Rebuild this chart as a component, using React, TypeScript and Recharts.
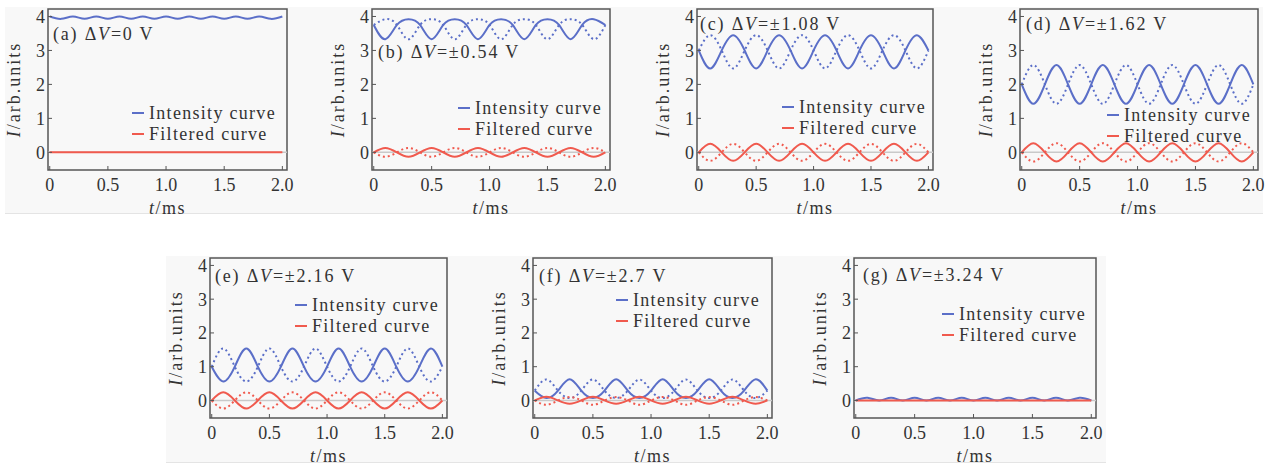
import React from "react";
import {
  LineChart, Line, XAxis, YAxis, ReferenceArea, ReferenceLine, Legend, Label,
} from "recharts";

const FONT = '"Liberation Serif", "Times New Roman", serif';
const BLUE = "#5b6fc8";
const RED = "#f05a4e";
const INK = "#333333";
const FRAME = "#555555";

// time axis, ms
const TIME = [0, 0.1, 0.2, 0.3, 0.4, 0.5, 0.6, 0.7, 0.8, 0.9, 1.0, 1.1, 1.2, 1.3, 1.4, 1.5, 1.6, 1.7, 1.8, 1.9, 2.0];
const X_TICKS = [0, 0.5, 1.0, 1.5, 2.0];
const Y_TICKS = [0, 1, 2, 3, 4];
const X_DOMAIN: [number, number] = [-0.015, 2.04];
const Y_DOMAIN: [number, number] = [-0.52, 4.22];
const SERIES_NAMES = ["Intensity curve", "Filtered curve"];

// (a) ΔV = 0 V
const A_INT = [4.0, 3.93, 4.0, 3.93, 4.0, 3.93, 4.0, 3.93, 4.0, 3.93, 4.0, 3.93, 4.0, 3.93, 4.0, 3.93, 4.0, 3.93, 4.0, 3.93, 4.0];
const A_FIL = [0, 0, 0, 0, 0, 0, 0, 0, 0, 0, 0, 0, 0, 0, 0, 0, 0, 0, 0, 0, 0];

// (b) ΔV = ±0.54 V
const B_INT = [3.75, 3.33, 3.75, 3.92, 3.75, 3.33, 3.75, 3.92, 3.75, 3.33, 3.75, 3.92, 3.75, 3.33, 3.75, 3.92, 3.75, 3.33, 3.75, 3.92, 3.75];
const B_INT_D = [3.75, 3.92, 3.75, 3.33, 3.75, 3.92, 3.75, 3.33, 3.75, 3.92, 3.75, 3.33, 3.75, 3.92, 3.75, 3.33, 3.75, 3.92, 3.75, 3.33, 3.75];
const B_FIL = [0, 0.13, 0, -0.13, 0, 0.13, 0, -0.13, 0, 0.13, 0, -0.13, 0, 0.13, 0, -0.13, 0, 0.13, 0, -0.13, 0];
const B_FIL_D = [0, -0.13, 0, 0.13, 0, -0.13, 0, 0.13, 0, -0.13, 0, 0.13, 0, -0.13, 0, 0.13, 0, -0.13, 0, 0.13, 0];

// (c) ΔV = ±1.08 V
const C_INT = [3.0, 2.47, 3.0, 3.45, 3.0, 2.47, 3.0, 3.45, 3.0, 2.47, 3.0, 3.45, 3.0, 2.47, 3.0, 3.45, 3.0, 2.47, 3.0, 3.45, 3.0];
const C_INT_D = [3.0, 3.45, 3.0, 2.47, 3.0, 3.45, 3.0, 2.47, 3.0, 3.45, 3.0, 2.47, 3.0, 3.45, 3.0, 2.47, 3.0, 3.45, 3.0, 2.47, 3.0];
const C_FIL = [0, 0.25, 0, -0.25, 0, 0.25, 0, -0.25, 0, 0.25, 0, -0.25, 0, 0.25, 0, -0.25, 0, 0.25, 0, -0.25, 0];
const C_FIL_D = [0, -0.25, 0, 0.25, 0, -0.25, 0, 0.25, 0, -0.25, 0, 0.25, 0, -0.25, 0, 0.25, 0, -0.25, 0, 0.25, 0];

// (d) ΔV = ±1.62 V
const D_INT = [2.0, 1.43, 2.0, 2.57, 2.0, 1.43, 2.0, 2.57, 2.0, 1.43, 2.0, 2.57, 2.0, 1.43, 2.0, 2.57, 2.0, 1.43, 2.0, 2.57, 2.0];
const D_INT_D = [2.0, 2.57, 2.0, 1.43, 2.0, 2.57, 2.0, 1.43, 2.0, 2.57, 2.0, 1.43, 2.0, 2.57, 2.0, 1.43, 2.0, 2.57, 2.0, 1.43, 2.0];
const D_FIL = [0, 0.27, 0, -0.27, 0, 0.27, 0, -0.27, 0, 0.27, 0, -0.27, 0, 0.27, 0, -0.27, 0, 0.27, 0, -0.27, 0];
const D_FIL_D = [0, -0.27, 0, 0.27, 0, -0.27, 0, 0.27, 0, -0.27, 0, 0.27, 0, -0.27, 0, 0.27, 0, -0.27, 0, 0.27, 0];

// (e) ΔV = ±2.16 V
const E_INT = [1.0, 0.56, 1.0, 1.54, 1.0, 0.56, 1.0, 1.54, 1.0, 0.56, 1.0, 1.54, 1.0, 0.56, 1.0, 1.54, 1.0, 0.56, 1.0, 1.54, 1.0];
const E_INT_D = [1.0, 1.54, 1.0, 0.56, 1.0, 1.54, 1.0, 0.56, 1.0, 1.54, 1.0, 0.56, 1.0, 1.54, 1.0, 0.56, 1.0, 1.54, 1.0, 0.56, 1.0];
const E_FIL = [0, 0.24, 0, -0.24, 0, 0.24, 0, -0.24, 0, 0.24, 0, -0.24, 0, 0.24, 0, -0.24, 0, 0.24, 0, -0.24, 0];
const E_FIL_D = [0, -0.24, 0, 0.24, 0, -0.24, 0, 0.24, 0, -0.24, 0, 0.24, 0, -0.24, 0, 0.24, 0, -0.24, 0, 0.24, 0];

// (f) ΔV = ±2.7 V
const F_INT = [0.29, 0.07, 0.29, 0.63, 0.29, 0.07, 0.29, 0.63, 0.29, 0.07, 0.29, 0.63, 0.29, 0.07, 0.29, 0.63, 0.29, 0.07, 0.29, 0.63, 0.29];
const F_INT_D = [0.29, 0.62, 0.29, 0.07, 0.29, 0.62, 0.29, 0.07, 0.29, 0.62, 0.29, 0.07, 0.29, 0.62, 0.29, 0.07, 0.29, 0.62, 0.29, 0.07, 0.29];
const F_FIL = [0, 0.11, 0, -0.1, 0, 0.11, 0, -0.1, 0, 0.11, 0, -0.1, 0, 0.11, 0, -0.1, 0, 0.11, 0, -0.1, 0];
const F_FIL_D = [0, -0.13, 0, 0.1, 0, -0.13, 0, 0.1, 0, -0.13, 0, 0.1, 0, -0.13, 0, 0.1, 0, -0.13, 0, 0.1, 0];

// (g) ΔV = ±3.24 V
const G_INT = [0, 0.08, 0, 0.08, 0, 0.08, 0, 0.08, 0, 0.08, 0, 0.08, 0, 0.08, 0, 0.08, 0, 0.08, 0, 0.08, 0];
const G_FIL = [0, 0, 0, 0, 0, 0, 0, 0, 0, 0, 0, 0, 0, 0, 0, 0, 0, 0, 0, 0, 0];

type PanelDef = {
  tag: string;
  dv: string;
  left: number; top: number; right: number; bottom: number;
  titleX: number; titleY: number;
  legendX: number; legendY: number;
  intensity: number[]; intensityShift?: number[];
  filtered: number[]; filteredShift?: number[];
};

const PANELS: PanelDef[] = [
  { tag: "(a)", dv: "=0 V", left: 48, top: 9, right: 287, bottom: 170, titleX: 5, titleY: 25, legendX: 84, legendY: 104, intensity: A_INT, filtered: A_FIL },
  { tag: "(b)", dv: "=±0.54 V", left: 372, top: 9, right: 610, bottom: 170, titleX: 6, titleY: 43, legendX: 86, legendY: 99, intensity: B_INT, intensityShift: B_INT_D, filtered: B_FIL, filteredShift: B_FIL_D },
  { tag: "(c)", dv: "=±1.08 V", left: 697, top: 9, right: 933, bottom: 170, titleX: 3, titleY: 15, legendX: 85, legendY: 98, intensity: C_INT, intensityShift: C_INT_D, filtered: C_FIL, filteredShift: C_FIL_D },
  { tag: "(d)", dv: "=±1.62 V", left: 1020, top: 9, right: 1258, bottom: 170, titleX: 6, titleY: 15, legendX: 87, legendY: 106, intensity: D_INT, intensityShift: D_INT_D, filtered: D_FIL, filteredShift: D_FIL_D },
  { tag: "(e)", dv: "=±2.16 V", left: 210, top: 258, right: 447, bottom: 418, titleX: 5, titleY: 18, legendX: 85, legendY: 47, intensity: E_INT, intensityShift: E_INT_D, filtered: E_FIL, filteredShift: E_FIL_D },
  { tag: "(f)", dv: "=±2.7 V", left: 533, top: 258, right: 772, bottom: 418, titleX: 6, titleY: 18, legendX: 83, legendY: 42, intensity: F_INT, intensityShift: F_INT_D, filtered: F_FIL, filteredShift: F_FIL_D },
  { tag: "(g)", dv: "=±3.24 V", left: 854, top: 258, right: 1096, bottom: 418, titleX: 9, titleY: 17, legendX: 88, legendY: 56, intensity: G_INT, filtered: G_FIL },
];

const tickStyle = { fill: INK, fontSize: 18, fontFamily: FONT };

function Panel({ p }: { p: PanelDef }) {
  const plotW = p.right - p.left;
  const plotH = p.bottom - p.top;
  const rows = TIME.map((t, i) => ({
    t,
    int: p.intensity[i],
    intD: p.intensityShift ? p.intensityShift[i] : null,
    fil: p.filtered[i],
    filD: p.filteredShift ? p.filteredShift[i] : null,
  }));

  const renderLegend = (props: any) => {
    const items = (props.payload || [])
      .filter((e: any) => SERIES_NAMES.includes(e.value))
      .sort((a: any, b: any) => SERIES_NAMES.indexOf(a.value) - SERIES_NAMES.indexOf(b.value));
    return (
      <div style={{ fontFamily: FONT, fontSize: 18, color: INK, letterSpacing: 1.3, lineHeight: "21px" }}>
        {items.map((e: any) => (
          <div key={e.value} style={{ display: "flex", alignItems: "center", whiteSpace: "nowrap" }}>
            <span style={{ display: "inline-block", width: 12, height: 0, borderTop: `2px solid ${e.color}`, marginRight: 5 }} />
            {e.value}
          </div>
        ))}
      </div>
    );
  };

  return (
    <div style={{ position: "absolute", left: p.left - 50, top: p.top - 5 }}>
      <LineChart width={plotW + 60} height={plotH + 53} data={rows} margin={{ top: 5, right: 10, bottom: 0, left: 0 }}>
        <XAxis
          dataKey="t" type="number" domain={X_DOMAIN} ticks={X_TICKS} allowDataOverflow interval={0}
          axisLine={false} tickLine={{ stroke: FRAME }} tickSize={-4} tickMargin={12} height={48}
          tick={tickStyle} tickFormatter={(v: number) => (v === 0 ? "0" : v.toFixed(1))}
        >
          <Label
            content={() => (
              <text x={50 + plotW / 2} y={5 + plotH + 44} textAnchor="middle" style={{ ...tickStyle, letterSpacing: 1.5 }} fill={INK}>
                <tspan fontStyle="italic">t</tspan>/ms
              </text>
            )}
          />
        </XAxis>
        <YAxis
          type="number" domain={Y_DOMAIN} ticks={Y_TICKS} allowDataOverflow interval={0}
          axisLine={false} tickLine={{ stroke: FRAME }} tickSize={-4} tickMargin={7} width={50}
          tick={tickStyle}
        >
          <Label
            content={() => {
              const cx = 50 - 34;
              const cy = 5 + plotH / 2;
              return (
                <text x={cx} y={cy} textAnchor="middle" dominantBaseline="central" transform={`rotate(-90 ${cx} ${cy})`} style={{ ...tickStyle, letterSpacing: 2 }} fill={INK}>
                  <tspan fontStyle="italic">I</tspan>/arb.units
                </text>
              );
            }}
          />
        </YAxis>
        <ReferenceLine y={0} stroke="#c9c9c9" strokeWidth={1.5} />
        {p.intensityShift && (
          <Line dataKey="intD" type="natural" stroke={BLUE} strokeWidth={2} strokeDasharray="2 3" dot={false} legendType="none" isAnimationActive={false} />
        )}
        <Line dataKey="int" name="Intensity curve" type="natural" stroke={BLUE} strokeWidth={2} dot={false} isAnimationActive={false} />
        {p.filteredShift && (
          <Line dataKey="filD" type="natural" stroke={RED} strokeWidth={2} strokeDasharray="2 3" dot={false} legendType="none" isAnimationActive={false} />
        )}
        <Line dataKey="fil" name="Filtered curve" type="natural" stroke={RED} strokeWidth={2} dot={false} isAnimationActive={false} />
        <ReferenceArea
          x1={X_DOMAIN[0]} x2={X_DOMAIN[1]} y1={Y_DOMAIN[0]} y2={Y_DOMAIN[1]}
          fill="none" fillOpacity={0} stroke={FRAME} strokeWidth={1.5}
          label={() => (
            <text x={50 + p.titleX} y={5 + p.titleY} dominantBaseline="central" style={{ ...tickStyle, letterSpacing: 1.8 }} fill={INK}>
              {p.tag} Δ<tspan fontStyle="italic">V</tspan>{p.dv}
            </text>
          )}
        />
        <Legend
          layout="vertical" align="center" verticalAlign="middle"
          content={renderLegend}
          wrapperStyle={{ left: 50 + p.legendX, top: 5 + p.legendY - 10.5, width: "auto" }}
        />
      </LineChart>
    </div>
  );
}

export default function App() {
  return (
    <div style={{ position: "absolute", left: 0, top: 0, width: 1276, height: 466, background: "#ffffff", overflow: "hidden" }}>
      <div style={{ position: "absolute", left: 5, top: 7, width: 1258, height: 206, background: "#f8f8f8", borderBottom: "1px solid #e4e4e4" }} />
      <div style={{ position: "absolute", left: 166, top: 256, width: 940, height: 206, background: "#f8f8f8", borderBottom: "1px solid #e4e4e4" }} />
      {PANELS.map((p) => (
        <Panel key={p.tag} p={p} />
      ))}
    </div>
  );
}
